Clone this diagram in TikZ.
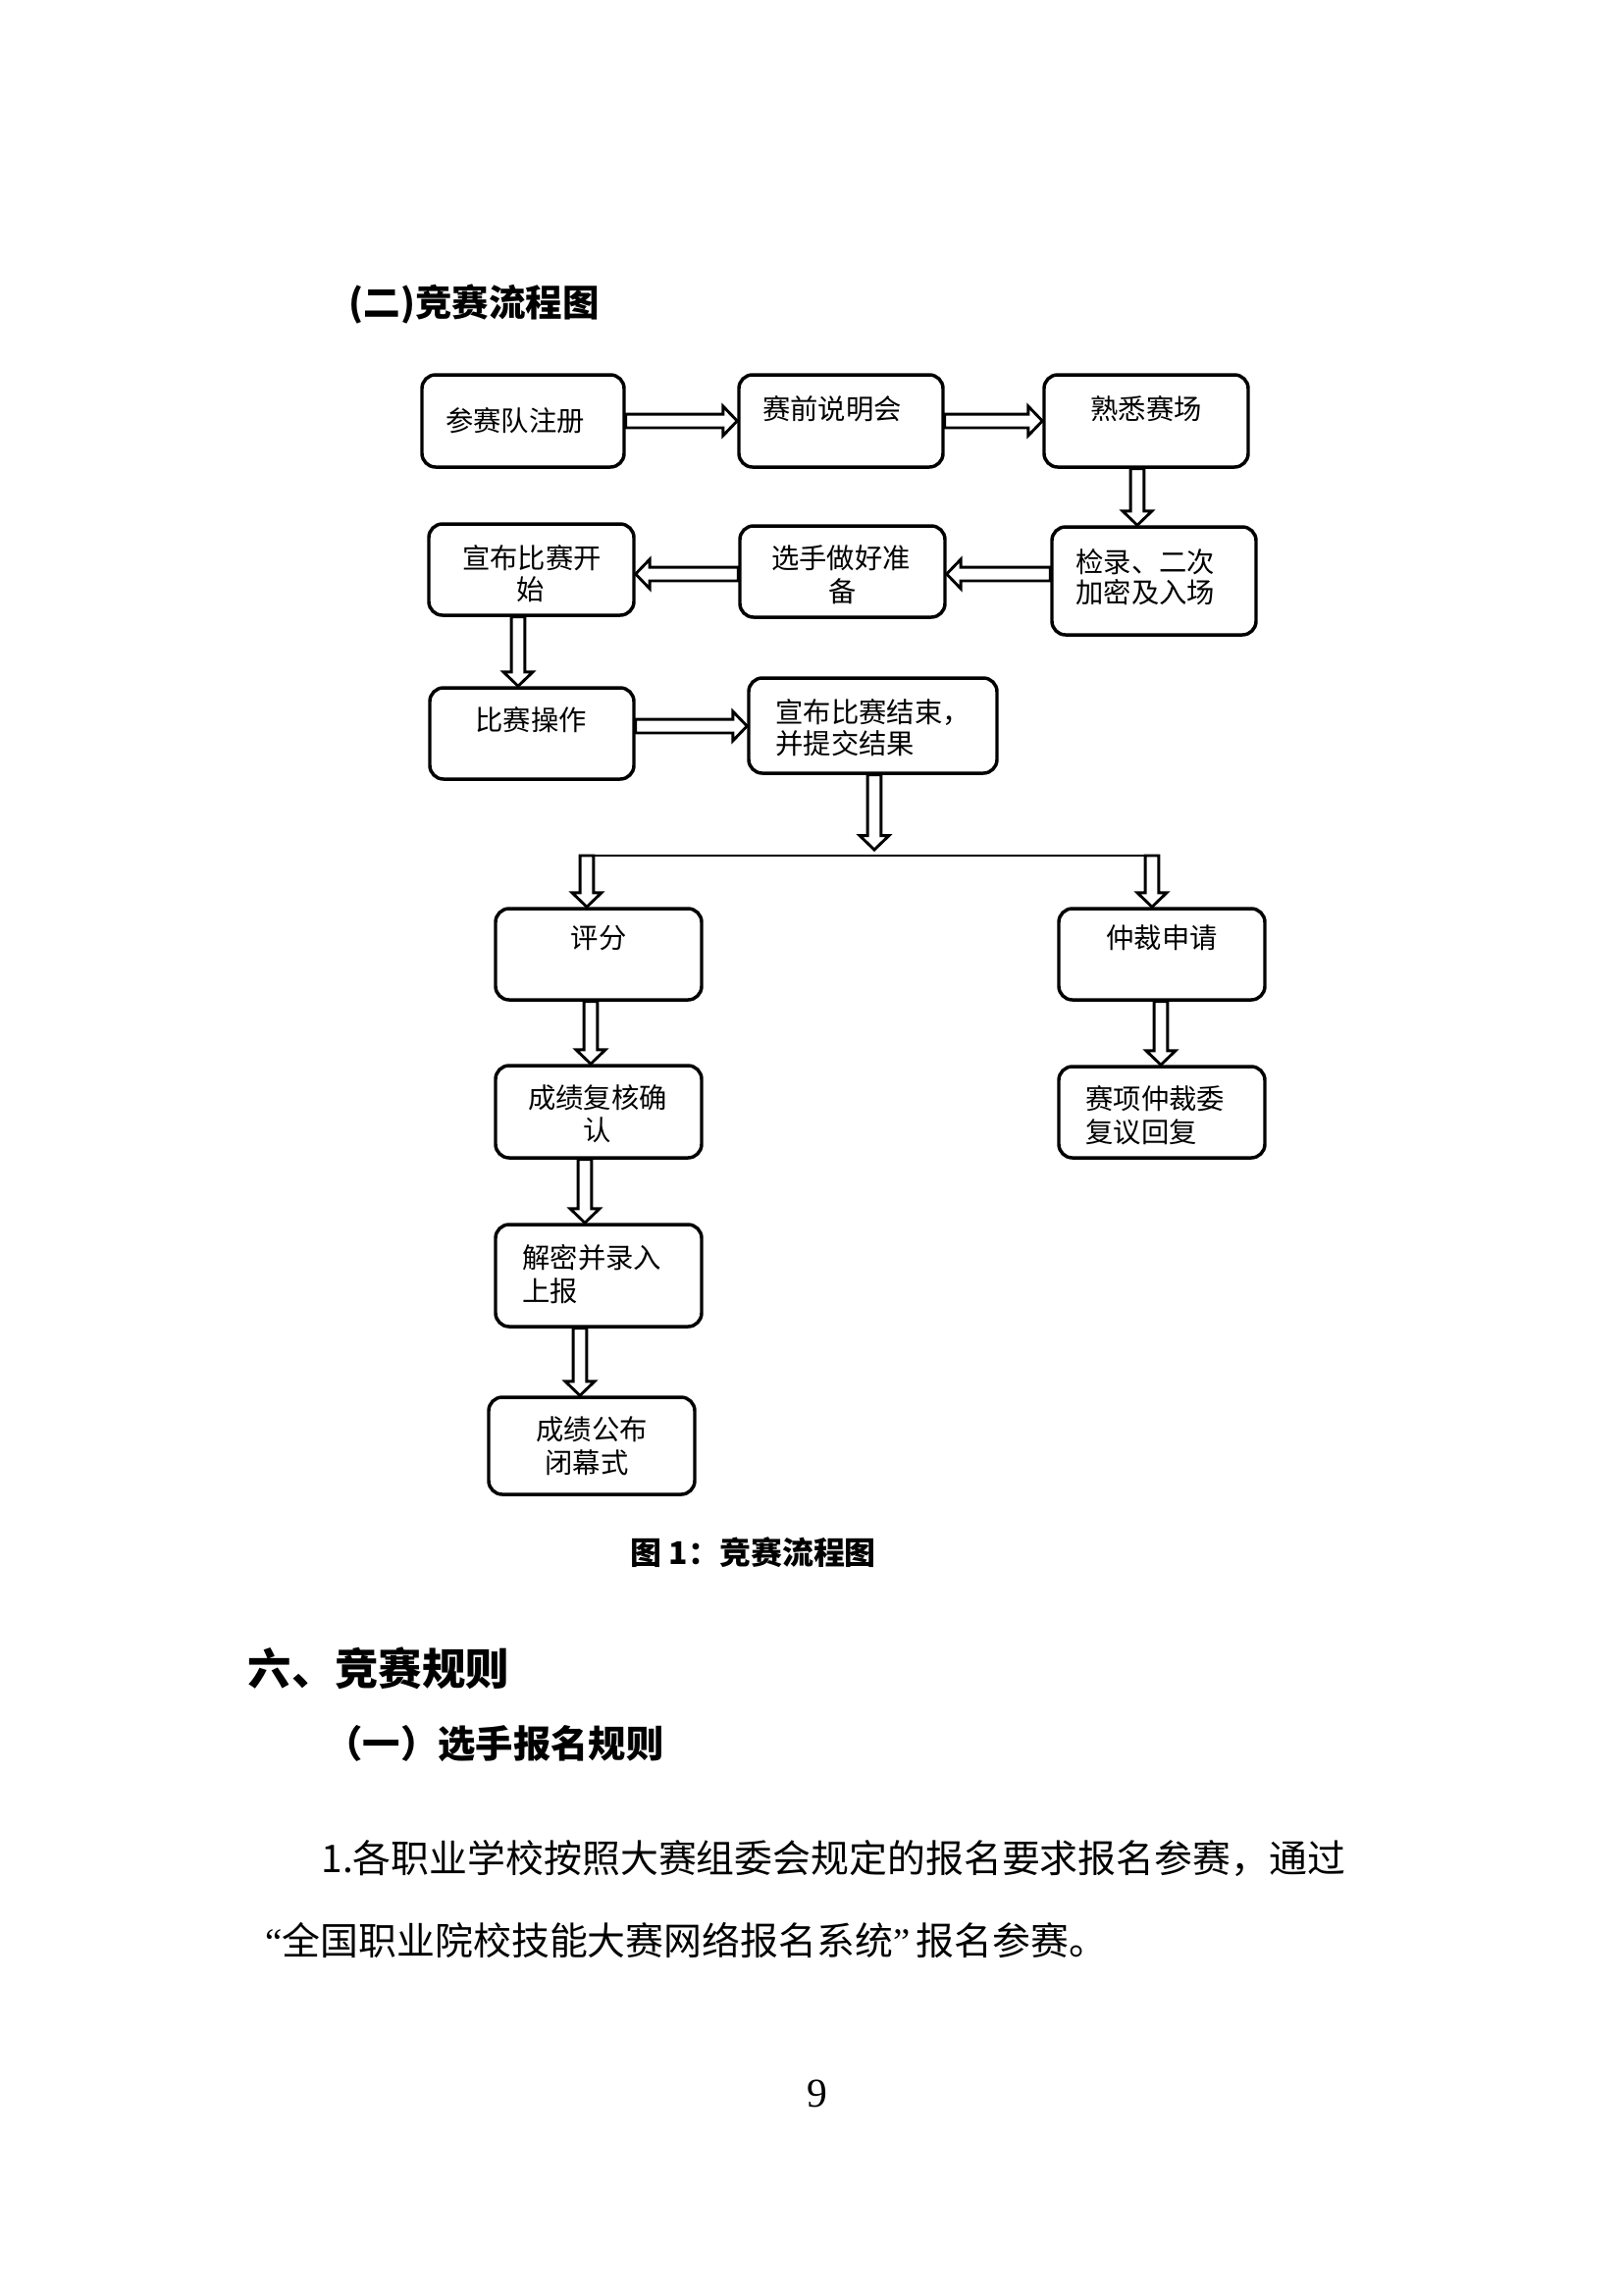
\documentclass[tikz,border=0pt]{standalone}
\usepackage{fontspec}
\newfontfamily\cjk{Noto Sans CJK SC}
\newfontfamily\numfont{Liberation Serif}
\usetikzlibrary{calc}
\newcommand\mkbox[5]{\node[box, minimum width={(#4-#2)*0.36pt}, minimum height={(#5-#3)*0.36pt}] (#1) at ({(#2+#4)/2},{(#3+#5)/2}) {};}
\tikzset{
  box/.style={draw, line width=1.25pt, rounded corners=5pt, inner sep=0pt, fill=none},
  blockarrow/.style={draw, line width=1.05pt, fill=white, line join=miter, miter limit=10,
    to path={let \p1=(\tikztostart), \p2=(\tikztotarget),
      \n1={veclen(\x2-\x1,\y2-\y1)}, \n2={atan2(\y2-\y1,\x2-\x1)} in
      ([shift={(\p1)},rotate=\n2]0pt,2.5pt)
      -- ([shift={(\p1)},rotate=\n2]{\n1*1pt-5.2pt},2.5pt)
      -- ([shift={(\p1)},rotate=\n2]{\n1*1pt-5.2pt},5.4pt)
      -- ([shift={(\p1)},rotate=\n2]{\n1*1pt},0pt)
      -- ([shift={(\p1)},rotate=\n2]{\n1*1pt-5.2pt},-5.4pt)
      -- ([shift={(\p1)},rotate=\n2]{\n1*1pt-5.2pt},-2.5pt)
      -- ([shift={(\p1)},rotate=\n2]0pt,-2.5pt) -- cycle}},
  txt/.style={inner sep=0pt, anchor=base, font=\cjk\fontsize{10.2}{12}\selectfont},
  txtl/.style={txt, anchor=base west},
  head/.style={inner sep=0pt, anchor=base west},
}
\begin{document}
\begin{tikzpicture}[x=0.36pt, y=-0.36pt]
\path[use as bounding box, fill=white] (0,0) rectangle (1654,2339);

% headings
\node[head, font=\cjk\bfseries\fontsize{13.5}{16}\selectfont] (title) at (355,322) {(二)竞赛流程图};

% boxes
\mkbox{b1}{430}{382}{636}{476}
\mkbox{b2}{753}{382}{961}{476}
\mkbox{b3}{1064}{382}{1272}{476}
\mkbox{b4}{1072}{537}{1280}{647}
\mkbox{b5}{754}{536}{963}{629}
\mkbox{b6}{437}{534}{646}{627}
\mkbox{b7}{438}{701}{646}{794}
\mkbox{b8}{763}{691}{1016}{788}
\mkbox{b9}{505}{926}{715}{1019}
\mkbox{b10}{1079}{926}{1289}{1019}
\mkbox{b11}{505}{1086}{715}{1180}
\mkbox{b12}{1079}{1087}{1289}{1180}
\mkbox{b13}{505}{1248}{715}{1352}
\mkbox{b14}{498}{1424}{708}{1523}

% box texts
\node[txt] (t1) at (525,439) {参赛队注册};
\node[txt] (t2) at (848,427) {赛前说明会};
\node[txt] (t3) at (1168,427) {熟悉赛场};
\node[txtl] (t4a) at (1096,583) {检录、二次};
\node[txtl] (t4b) at (1096,614) {加密及入场};
\node[txt] (t5a) at (857,579) {选手做好准};
\node[txt] (t5b) at (859,613) {备};
\node[txt] (t6a) at (542,579) {宣布比赛开};
\node[txt] (t6b) at (541,611) {始};
\node[txt] (t7) at (541,744) {比赛操作};
\node[txtl] (t8a) at (790,736) {宣布比赛结束，};
\node[txtl] (t8b) at (790,768) {并提交结果};
\node[txt] (t9) at (610,966) {评分};
\node[txt] (t10) at (1184,966) {仲裁申请};
\node[txt] (t11a) at (609,1129) {成绩复核确};
\node[txt] (t11b) at (609,1162) {认};
\node[txtl] (t12a) at (1106,1130) {赛项仲裁委};
\node[txtl] (t12b) at (1106,1164) {复议回复};
\node[txtl] (t13a) at (532,1292) {解密并录入};
\node[txtl] (t13b) at (532,1326) {上报};
\node[txt] (t14a) at (603,1467) {成绩公布};
\node[txt] (t14b) at (598,1501) {闭幕式};

% helper coordinates
\coordinate (a3) at (1159,0);
\coordinate (r2) at (0,585);
\coordinate (a6) at (528,0);
\coordinate (r3) at (0,740);
\coordinate (a8) at (891,0);
\coordinate (j) at (891,866);
\coordinate (bl0) at (590,872);
\coordinate (bl) at (598,872);
\coordinate (br) at (1174,872);
\coordinate (a11) at (602,0);
\coordinate (a12) at (1183,0);
\coordinate (a13) at (596,0);
\coordinate (a14) at (591,0);

% connectors
\draw[blockarrow] (b1.east) to (b2.west);
\draw[blockarrow] (b2.east) to (b3.west);
\draw[blockarrow] (b3.south -| a3) to (b4.north -| a3);
\draw[blockarrow] (b4.west |- r2) to (b5.east |- r2);
\draw[blockarrow] (b5.west |- r2) to (b6.east |- r2);
\draw[blockarrow] (b6.south -| a6) to (b7.north -| a6);
\draw[blockarrow] (b7.east |- r3) to (b8.west |- r3);
\draw[blockarrow] (b8.south -| a8) to (j);
\draw[line width=0.9pt] (bl0) -- (br);
\draw[blockarrow] (bl) to (b9.north -| bl);
\draw[blockarrow] (br) to (b10.north -| br);
\draw[blockarrow] (b9.south -| a11) to (b11.north -| a11);
\draw[blockarrow] (b10.south -| a12) to (b12.north -| a12);
\draw[blockarrow] (b11.south -| a13) to (b13.north -| a13);
\draw[blockarrow] (b13.south -| a14) to (b14.north -| a14);

% caption and following text
\node[head, font=\cjk\bfseries\fontsize{11.5}{14}\selectfont] (cap) at (642,1594) {图 1：竞赛流程图};
\node[head, font=\cjk\bfseries\fontsize{16}{19}\selectfont] (sec) at (252,1717) {六、竞赛规则};
\node[head, font=\cjk\bfseries\fontsize{13.8}{16}\selectfont] (sub) at (331,1791) {（一）选手报名规则};
\node[head, font=\cjk\fontsize{14}{17}\selectfont] (p1) at (327,1908) {1.各职业学校按照大赛组委会规定的报名要求报名参赛，通过};
\node[head, font=\cjk\fontsize{14}{17}\selectfont] (p2) at (270,1992) {{\numfont “}全国职业院校技能大赛网络报名系统{\numfont ”}\,报名参赛。};
\node[inner sep=0pt, anchor=base, font=\numfont\fontsize{15}{18}\selectfont] (pg) at (833,2147) {9};
\end{tikzpicture}
\end{document}
